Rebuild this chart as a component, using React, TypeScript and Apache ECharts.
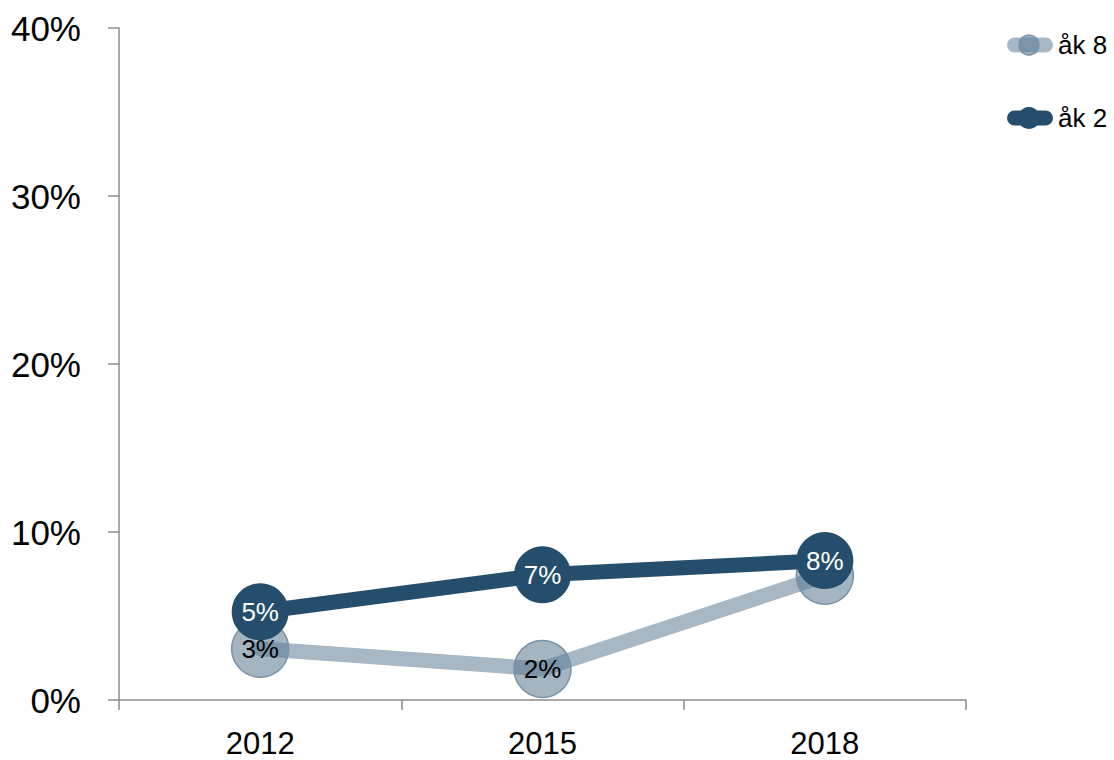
import React, { useEffect, useRef } from "react";
import * as echarts from "echarts";

const categories = ["2012", "2015", "2018"];
const ak8 = [3.05, 1.85, 7.4];
const ak2 = [5.25, 7.45, 8.3];
const yTicks = [0, 10, 20, 30, 40];
const seriesNames = ["åk 8", "åk 2"];

const FONT = "Liberation Sans, Arial, sans-serif";
const LIGHT_LINE = "#a7b7c3";
const LIGHT_SYMBOL = "rgba(90,120,143,0.55)";
const LIGHT_BORDER = "#7a93a7";
const DARK = "#244e6b";

function legendItem(name: string, y: number, lineColor: string, symFill: string, symStroke: string | null, r: number) {
  return {
    type: "group",
    children: [
      {
        type: "line",
        shape: { x1: 1014.5, y1: y, x2: 1045.5, y2: y },
        style: { stroke: lineColor, lineWidth: 15, lineCap: "round" },
      },
      {
        type: "circle",
        shape: { cx: 1029, cy: y, r },
        style: symStroke
          ? { fill: symFill, stroke: symStroke, lineWidth: 1.5 }
          : { fill: symFill },
      },
      {
        type: "text",
        x: 1058,
        y,
        style: {
          text: name,
          fontSize: 26,
          fontFamily: FONT,
          fill: "#000",
          verticalAlign: "middle",
          align: "left",
        },
      },
    ],
  };
}

export default function App() {
  const ref = useRef<HTMLDivElement>(null);
  useEffect(() => {
    if (!ref.current) return;
    const chart = echarts.init(ref.current, undefined, { renderer: "svg" });
    chart.setOption({
      animation: false,
      backgroundColor: "#ffffff",
      textStyle: { fontFamily: FONT },
      grid: { left: 119, right: 148, top: 28, bottom: 60 },
      legend: { show: false },
      graphic: [
        legendItem(seriesNames[0], 45, LIGHT_LINE, LIGHT_SYMBOL, LIGHT_BORDER, 10),
        legendItem(seriesNames[1], 118, DARK, DARK, null, 11),
      ],
      xAxis: {
        type: "category",
        data: categories,
        boundaryGap: true,
        axisLine: { lineStyle: { color: "#8c8c8c", width: 1.5 } },
        axisTick: { show: true, length: 10, lineStyle: { color: "#8c8c8c", width: 1.5 } },
        axisLabel: { fontSize: 31, lineHeight: 32, color: "#000", margin: 27, fontFamily: FONT },
        splitLine: { show: false },
      },
      yAxis: {
        type: "value",
        min: yTicks[0],
        max: yTicks[yTicks.length - 1],
        interval: 10,
        axisLine: { show: true, lineStyle: { color: "#8c8c8c", width: 1.5 } },
        axisTick: { show: true, length: 11, lineStyle: { color: "#8c8c8c", width: 1.5 } },
        axisLabel: {
          fontSize: 35,
          color: "#000",
          margin: 38,
          fontFamily: FONT,
          formatter: (v: number) => v + "%",
        },
        splitLine: { show: false },
      },
      series: [
        {
          name: seriesNames[0],
          type: "line",
          data: ak8,
          symbol: "circle",
          symbolSize: 57,
          lineStyle: { color: LIGHT_LINE, width: 15, cap: "round" },
          itemStyle: {
            color: LIGHT_SYMBOL,
            borderColor: LIGHT_BORDER,
            borderWidth: 1.5,
          },
          label: {
            show: true,
            position: "inside",
            color: "#000",
            fontSize: 26,
            fontFamily: FONT,
            formatter: (p: any) => Math.round(p.value) + "%",
          },
          z: 2,
        },
        {
          name: seriesNames[1],
          type: "line",
          data: ak2,
          symbol: "circle",
          symbolSize: 57,
          lineStyle: { color: DARK, width: 15, cap: "round" },
          itemStyle: { color: DARK, borderWidth: 0 },
          label: {
            show: true,
            position: "inside",
            color: "#fff",
            fontSize: 26,
            fontFamily: FONT,
            formatter: (p: any) => Math.round(p.value) + "%",
          },
          z: 3,
        },
      ],
    });
    return () => chart.dispose();
  }, []);
  return <div ref={ref} style={{ width: 1114, height: 760, position: "absolute", left: 0, top: 0 }} />;
}
